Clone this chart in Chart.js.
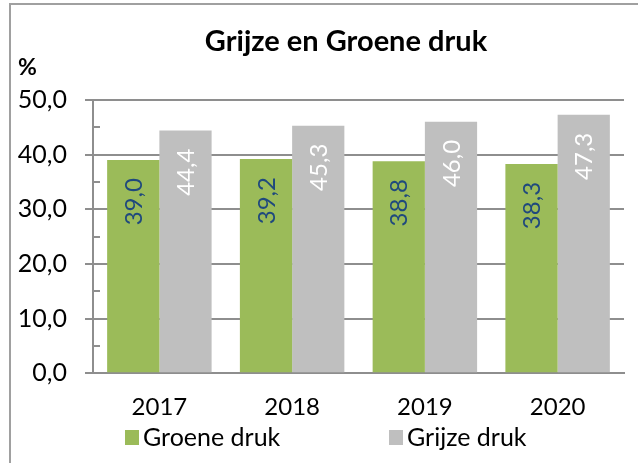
<!DOCTYPE html>
<html>
<head>
<meta charset="utf-8">
<script src="https://cdn.jsdelivr.net/npm/chart.js@4/dist/chart.umd.min.js"></script>
<style>
    body { margin: 0; background: #fff; }
    #frame { position: absolute; left: 9px; top: 3px; width: 640px; height: 470px;
             border-left: 2px solid #a0a0a0; border-top: 2px solid #a0a0a0; }
    #wrap { position: absolute; left: 0; top: 0; width: 638px; height: 463px; }
</style>
</head>
<body>
<div id="frame"></div>
<div id="wrap"><canvas id="chart" width="638" height="463"></canvas></div>
<script>
const chartTitle = 'Grijze en Groene druk';
const years = ['2017', '2018', '2019', '2020'];
const groeneDruk = [39.0, 39.2, 38.8, 38.3];
const grijzeDruk = [44.4, 45.3, 46.0, 47.3];
const seriesNames = ['Groene druk', 'Grijze druk'];
const seriesColors = ['#9bbb59', '#bfbfbf'];
const labelColors = ['#1f497d', '#ffffff'];
const yTicks = [0, 10, 20, 30, 40, 50];
const yMinorTicks = [5, 15, 25, 35, 45];

const FONT = 'Lato, Carlito, Calibri, sans-serif';
const lineColor = '#8e8e8e';

const fmt = v => Number(v).toFixed(1).replace('.', ',');

// values written vertically inside the top of each bar
const barLabels = {
    id: 'barLabels',
    afterDatasetsDraw(chart) {
        const ctx = chart.ctx;
        chart.data.datasets.forEach((ds, di) => {
            const meta = chart.getDatasetMeta(di);
            meta.data.forEach((bar, i) => {
                ctx.save();
                ctx.translate(bar.x + 1, bar.y + 18);
                ctx.rotate(-Math.PI / 2);
                ctx.font = '24px ' + FONT;
                ctx.fillStyle = labelColors[di];
                ctx.textAlign = 'right';
                ctx.textBaseline = 'middle';
                ctx.fillText(fmt(ds.data[i]), 0, 0);
                ctx.restore();
            });
        });
    }
};

// title, minor ticks inside the y axis, "%" unit and legend
const extras = {
    id: 'extras',
    afterDraw(chart) {
        const ctx = chart.ctx;
        const y = chart.scales.y;
        const area = chart.chartArea;
        ctx.save();
        ctx.strokeStyle = lineColor;
        ctx.lineWidth = 2;
        for (const v of yMinorTicks) {
            const py = Math.round(y.getPixelForValue(v));
            ctx.beginPath();
            ctx.moveTo(area.left, py);
            ctx.lineTo(area.left + 7, py);
            ctx.stroke();
        }

        ctx.fillStyle = '#000';
        ctx.textBaseline = 'middle';
        ctx.textAlign = 'center';
        ctx.font = 'bold 29px ' + FONT;
        ctx.fillText(chartTitle, area.left + 253, 42);

        ctx.textAlign = 'left';
        ctx.font = 'bold 23px ' + FONT;
        ctx.fillText('%', area.left - 75, area.top - 32);

        const legendX = [area.left + 32, area.left + 296];
        const legendY = 437;
        ctx.font = '25px ' + FONT;
        chart.data.datasets.forEach((ds, di) => {
            ctx.fillStyle = ds.backgroundColor;
            ctx.fillRect(legendX[di], legendY - 7, 14, 15);
            ctx.fillStyle = '#000';
            ctx.fillText(ds.label, legendX[di] + 18, legendY + 1);
        });
        ctx.restore();
    }
};

new Chart(document.getElementById('chart'), {
    type: 'bar',
    data: {
        labels: years,
        datasets: [
            { label: seriesNames[0], data: groeneDruk, backgroundColor: seriesColors[0] },
            { label: seriesNames[1], data: grijzeDruk, backgroundColor: seriesColors[1] }
        ]
    },
    options: {
        responsive: false,
        animation: false,
        categoryPercentage: 0.787,
        barPercentage: 1,
        layout: { padding: { left: 0, right: 14, top: 100, bottom: 21 } },
        plugins: {
            legend: { display: false },
            tooltip: { enabled: false },
            title: { display: false }
        },
        scales: {
            x: {
                grid: { display: false, drawTicks: false },
                border: { display: true, color: lineColor, width: 2 },
                ticks: { color: '#000', padding: 20, font: { family: FONT, size: 24 } }
            },
            y: {
                min: 0,
                max: 50,
                afterBuildTicks(scale) { scale.ticks = yTicks.map(v => ({ value: v })); },
                afterFit(scale) { scale.width = 93; },
                grid: { color: lineColor, lineWidth: 2, tickLength: 8, drawTicks: true },
                border: { display: true, color: lineColor, width: 2 },
                ticks: { color: '#000', padding: 18, font: { family: FONT, size: 25 }, callback: v => fmt(v) }
            }
        }
    },
    plugins: [barLabels, extras]
});
</script>
</body>
</html>
